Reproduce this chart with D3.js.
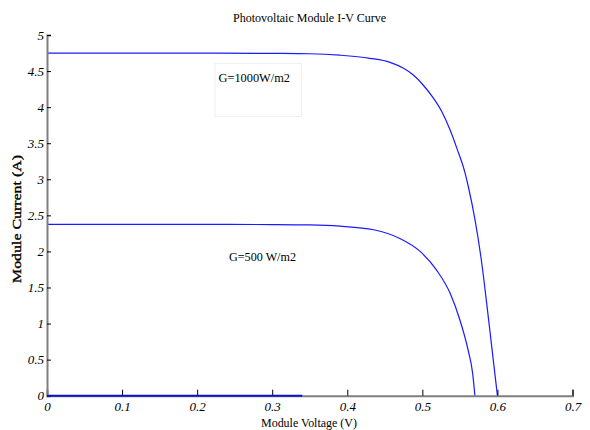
<!DOCTYPE html>
<html>
<head>
<meta charset="utf-8">
<script src="https://cdn.jsdelivr.net/npm/d3@7"></script>
<style>
  html, body { margin: 0; padding: 0; background: #fff; }
  svg { display: block; }
  text { font-family: "Liberation Serif", "DejaVu Serif", serif; fill: #000; }
</style>
</head>
<body>
<svg id="chart" width="590" height="430"></svg>
<script>
// ---- data ----
const titleText = "Photovoltaic Module I-V Curve";
const xLabel = "Module Voltage (V)";
const yLabel = "Module Current (A)";
const xTicks = [0, 0.1, 0.2, 0.3, 0.4, 0.5, 0.6, 0.7];
const yTicks = [0, 0.5, 1, 1.5, 2, 2.5, 3, 3.5, 4, 4.5, 5];

const v1000 = [0, 0.1, 0.2, 0.3, 0.35, 0.39, 0.43, 0.457, 0.475, 0.488, 0.501, 0.515, 0.526, 0.537, 0.546, 0.557, 0.5612, 0.5701, 0.5791, 0.5857, 0.5924, 0.6];
const i1000 = [4.75, 4.75, 4.75, 4.745, 4.74, 4.72, 4.677, 4.621, 4.538, 4.445, 4.307, 4.122, 3.937, 3.683, 3.429, 3.083, 2.90, 2.44, 1.84, 1.28, 0.68, 0];

const v500 = [0, 0.1, 0.2, 0.3, 0.35, 0.39, 0.435, 0.47, 0.497, 0.519, 0.537, 0.55, 0.561, 0.567, 0.57];
const i500 = [2.375, 2.375, 2.375, 2.372, 2.367, 2.35, 2.30, 2.18, 2.00, 1.74, 1.42, 1.05, 0.63, 0.31, 0];

const vZero = [0, 0.34];
const iZero = [0, 0];

const label1000 = "G=1000W/m2";
const label500 = "G=500 W/m2";

// ---- drawing ----
const svg = d3.select("#chart");
const x = d3.scaleLinear().domain([0, 0.7]).range([47, 572.5]);
const y = d3.scaleLinear().domain([0, 5]).range([395.7, 35]);

// annotation box
svg.append("rect")
  .attr("x", 215).attr("y", 63.5).attr("width", 86.5).attr("height", 53)
  .attr("fill", "#fff").attr("stroke", "#f0f0f0").attr("stroke-width", 1);

const line = d3.line().x(d => x(d[0])).y(d => y(d[1])).curve(d3.curveMonotoneX);

function series(vs, is) { return vs.map((v, k) => [v, is[k]]); }

svg.append("path").datum(series(v1000, i1000))
  .attr("d", line).attr("fill", "none").attr("stroke", "#1a1aff").attr("stroke-width", 1.2);
svg.append("path").datum(series(v500, i500))
  .attr("d", line).attr("fill", "none").attr("stroke", "#1a1aff").attr("stroke-width", 1.2);

// axes
const xAxis = d3.axisBottom(x).tickValues(xTicks).tickSize(-6).tickPadding(8)
  .tickFormat(d => d === 0 ? "0" : d3.format(".1f")(d));
const gx = svg.append("g").attr("transform", `translate(0,${y(0)})`).call(xAxis);
gx.select(".domain").attr("stroke", "#7f7f7f").attr("stroke-width", 2);
gx.selectAll(".tick line").attr("stroke", "#000").attr("stroke-width", 1);
gx.selectAll(".tick text").attr("font-size", 13).attr("font-style", "italic")
  .attr("font-family", "Liberation Serif, serif").attr("dy", "0.55em");

const yAxis = d3.axisLeft(y).tickValues(yTicks).tickSize(-4).tickPadding(3)
  .tickFormat(d => String(d));
const gy = svg.append("g").attr("transform", `translate(${x(0)},0)`).call(yAxis);
gy.select(".domain").attr("stroke", "#7f7f7f").attr("stroke-width", 2);
gy.selectAll(".tick line").attr("stroke", "#000").attr("stroke-width", 1);
gy.selectAll(".tick text").attr("font-size", 13).attr("font-style", "italic")
  .attr("font-family", "Liberation Serif, serif");

// zero-current segment
svg.append("path").datum(series(vZero, iZero))
  .attr("d", d3.line().x(d => x(d[0])).y(d => y(d[1])))
  .attr("fill", "none").attr("stroke", "#1010c8").attr("stroke-width", 2);

// texts
svg.append("text").attr("x", 309.5).attr("y", 22).attr("text-anchor", "middle")
  .attr("font-size", 12.5).attr("textLength", 153).attr("lengthAdjust", "spacingAndGlyphs")
  .text(titleText);
svg.append("text").attr("x", 309).attr("y", 427).attr("text-anchor", "middle")
  .attr("font-size", 13).attr("textLength", 96).attr("lengthAdjust", "spacingAndGlyphs")
  .text(xLabel);
svg.append("text").attr("transform", "translate(21,219) rotate(-90)").attr("text-anchor", "middle")
  .attr("font-size", 13).attr("stroke", "#000").attr("stroke-width", 0.35)
  .attr("textLength", 128).attr("lengthAdjust", "spacingAndGlyphs")
  .text(yLabel);
svg.append("text").attr("x", 218.5).attr("y", 82).attr("font-size", 13)
  .attr("textLength", 71.5).attr("lengthAdjust", "spacingAndGlyphs").text(label1000);
svg.append("text").attr("x", 229).attr("y", 261).attr("font-size", 13)
  .attr("textLength", 67).attr("lengthAdjust", "spacingAndGlyphs").text(label500);
</script>
</body>
</html>
